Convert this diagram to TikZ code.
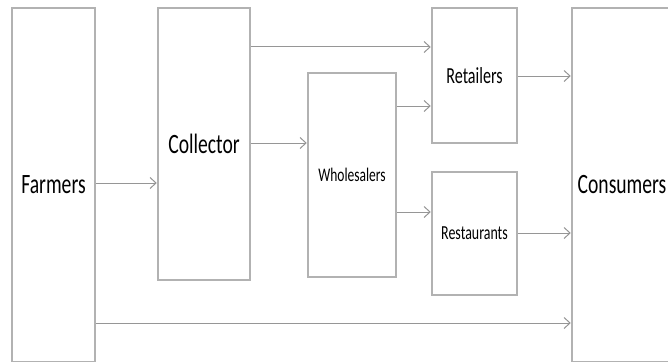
\documentclass[tikz,border=0pt]{standalone}
\usepackage{fontspec}
\setmainfont{Carlito}[FakeStretch=0.7]
\usepackage{tikz}
\usetikzlibrary{arrows.meta,positioning}

\definecolor{boxgray}{RGB}{178,178,178}
\definecolor{linegray}{RGB}{150,150,150}

\begin{document}
\begin{tikzpicture}[
  x=1pt, y=-1pt,
  box/.style={draw=boxgray, line width=2.5pt, minimum width=#1, inner sep=0pt},
  big/.style={font=\fontsize{28}{32}\selectfont},
  arrow/.style={-{Straight Barb[length=6pt, width=11pt]}, line width=1pt, draw=linegray}
]
\useasboundingbox (0,0) rectangle (668,361);
\fill[white] (0,0) rectangle (668,361);

\node[box=83pt, minimum height=354pt, big] (farmers) at (53.5,185) {Farmers};
\node[box=92pt, minimum height=272pt, big] (collector) at (204,144) {Collector};
\node[box=88pt, minimum height=204pt, font=\fontsize{19.3}{22}\selectfont] (whole) at (352,175) {Wholesalers};
\node[box=85pt, minimum height=135pt, font=\fontsize{23}{26}\selectfont] (retail) at (474.5,75.5) {Retailers};
\node[box=85pt, minimum height=123pt, font=\fontsize{19.9}{23}\selectfont] (rest) at (474.5,233.5) {Restaurants};
\node[box=100pt, minimum height=354pt, big] (consum) at (622,185) {Consumers};

\draw[arrow] (farmers.east |- 0,183) -- (collector.west |- 0,183);
\draw[arrow] (collector.east |- 0,47) -- (retail.west |- 0,47);
\draw[arrow] (collector.east |- 0,143) -- (whole.west |- 0,143);
\draw[arrow] (whole.east |- 0,106) -- (retail.west |- 0,106);
\draw[arrow] (whole.east |- 0,212) -- (rest.west |- 0,212);
\draw[arrow] (retail.east |- 0,76) -- (consum.west |- 0,76);
\draw[arrow] (rest.east |- 0,233) -- (consum.west |- 0,233);
\draw[arrow] (farmers.east |- 0,323) -- (consum.west |- 0,323);
\end{tikzpicture}
\end{document}
